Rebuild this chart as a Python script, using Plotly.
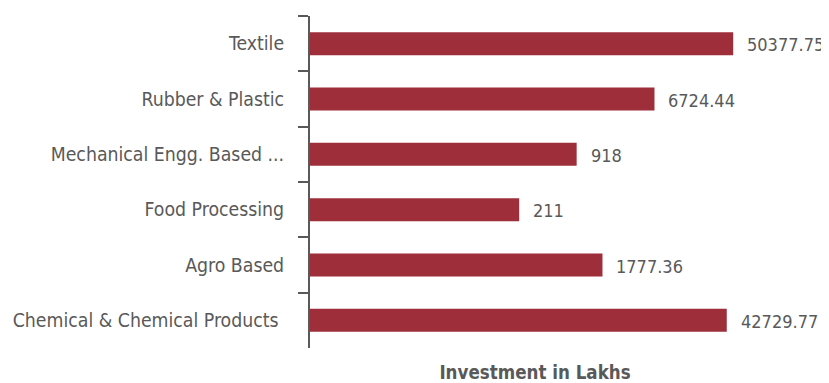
import numpy as np
import plotly.graph_objects as go

categories = ["Textile", "Rubber & Plastic", "Mechanical Engg. Based ...",
              "Food Processing", "Agro Based", "Chemical & Chemical Products "]
investment = [50377.75, 6724.44, 918, 211, 1777.36, 42729.77]

def fmt(v):
    s = f"{v:.2f}".rstrip("0").rstrip(".")
    return s

FONT = "Liberation Sans Narrow, Arial Narrow, DejaVu Sans Condensed, sans-serif"
GREY = "#595959"
BAR = "#9E2F3A"

fig = go.Figure(go.Bar(
    x=investment, y=categories, orientation="h",
    marker=dict(color=BAR, line=dict(width=0)),
    hoverinfo="x+y",
))

for c, v in zip(categories, investment):
    fig.add_annotation(x=np.log10(v), y=c, text=fmt(v), showarrow=False,
                       xanchor="left", xshift=12, yshift=-1,
                       font=dict(family=FONT, size=18, color=GREY))

fig.update_layout(
    width=821, height=375,
    margin=dict(l=302, r=69, t=8, b=35),
    paper_bgcolor="white", plot_bgcolor="white",
    bargap=0.585,
    showlegend=False,
    font=dict(family=FONT, color=GREY),
    xaxis=dict(type="log", range=[0, 5], showgrid=False, zeroline=False,
               showticklabels=False, ticks="", showline=False, automargin=False,
               title=dict(text="<b>Investment in Lakhs</b>", standoff=22,
                          font=dict(family=FONT, size=18.6, color=GREY))),
    yaxis=dict(autorange="reversed", showline=True, linewidth=2, linecolor=GREY,
               ticks="outside", tickson="boundaries", ticklen=10, tickwidth=2,
               tickcolor=GREY, ticklabelstandoff=20, automargin=False,
               tickfont=dict(family=FONT, size=19.3, color=GREY),
               showgrid=False, zeroline=False),
)

fig.write_html("out.html")
